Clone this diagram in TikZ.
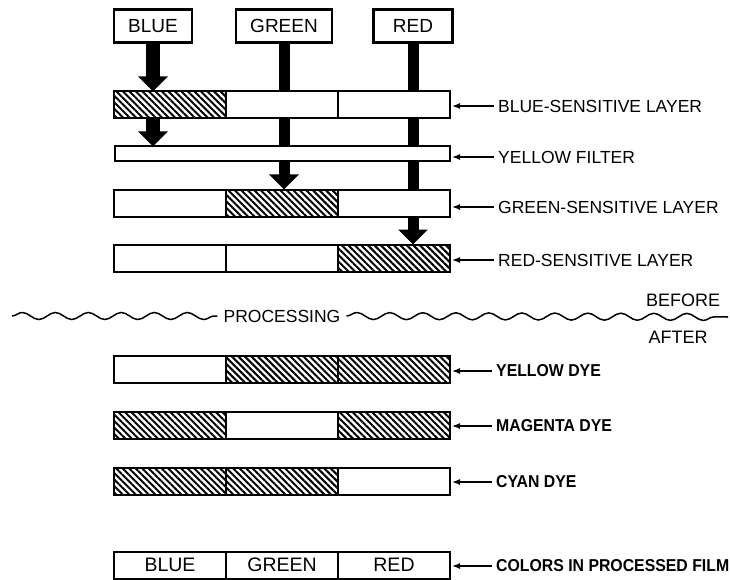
\documentclass[tikz,border=0pt]{standalone}
\usepackage{fontspec}
\setmainfont{Liberation Sans}
\newfontfamily\dyefont{Liberation Sans}[FakeStretch=0.92]
\usetikzlibrary{arrows.meta,positioning,patterns.meta,decorations.pathmorphing,backgrounds}
\tikzset{
  lay/.style={rectangle,draw=black,line width=2pt,fill=white,minimum width=112pt,
    minimum height=27pt,inner sep=0pt,outer sep=0pt,font=\fontsize{19.5}{20}\selectfont},
  layh/.style={rectangle,draw=black,line width=2pt,minimum width=112pt,
    minimum height=27pt,inner sep=0pt,outer sep=0pt,
    pattern={Lines[angle=-45,distance=4.6pt,line width=2pt]}},
  filt/.style={rectangle,draw=black,line width=2pt,fill=white,minimum width=335pt,
    minimum height=15pt,inner sep=0pt,outer sep=0pt},
  srcbox/.style={rectangle,draw=black,line width=2.2pt,fill=white,minimum height=33pt,
    inner sep=0pt,font=\fontsize{19}{20}\selectfont},
  lbl/.style={anchor=west,inner sep=4pt,font=\fontsize{17.5}{20}\selectfont},
  dyelbl/.style={anchor=west,inner sep=4pt,font=\dyefont\bfseries\fontsize{17.2}{20}\selectfont},
  ptr/.style={-{Latex[length=8pt,width=6pt]},line width=1.4pt,shorten >=2pt},
  beam/.style={line width=14pt,-{Triangle[length=15pt,width=29pt]}},
  beamthin/.style={beam,line width=11pt},
  wavy/.style={decorate,decoration={snake,amplitude=3.5pt,segment length=33pt},line width=1.5pt},
}
\begin{document}
\begin{tikzpicture}[x=1pt,y=-1pt]
  \useasboundingbox (0,0) rectangle (730,580);
  % light
  \node (sb) [srcbox,minimum width=78pt] at (153,26) {BLUE};
  \node (sg) [srcbox,minimum width=96pt] at (284,26) {GREEN};
  \node (sr) [srcbox,minimum width=79pt] at (413,26) {RED};
  % film before processing
  \node (b1) [layh,anchor=west] at (114,105) {};
  \node (b2) [lay,right=0pt of b1] {};
  \node (b3) [lay,right=0pt of b2] {};
  \node (yf) [filt,anchor=west] at (115,154) {};
  \node (g1) [lay,anchor=west] at (114,203) {};
  \node (g2) [layh,right=0pt of g1] {};
  \node (g3) [lay,right=0pt of g2] {};
  \node (r1) [lay,anchor=west] at (114,258) {};
  \node (r2) [lay,right=0pt of r1] {};
  \node (r3) [layh,right=0pt of r2] {};
  \begin{pgfonlayer}{background}
    \draw[beam] (sb) -- (sb.south |- b1.north);
    \draw[beam] (sb.south |- b1.south) -- (sb.south |- yf.north);
    \draw[beamthin] (sg) -- (sg.south |- g2.north);
    \draw[beamthin] (sr) -- (sr.south |- r3.north);
  \end{pgfonlayer}
  \node (lb) [lbl] at (494,106) {BLUE-SENSITIVE LAYER};
  \node (ly) [lbl] at (494,157) {YELLOW FILTER};
  \node (lg) [lbl] at (494,207) {GREEN-SENSITIVE LAYER};
  \node (lr) [lbl] at (494,260) {RED-SENSITIVE LAYER};
  \draw[ptr] (lb.west) -- (lb.west -| b3.east);
  \draw[ptr] (ly.west) -- (ly.west -| yf.east);
  \draw[ptr] (lg.west) -- (lg.west -| g3.east);
  \draw[ptr] (lr.west) -- (lr.west -| r3.east);
  % processing line
  \node (proc) [lbl,anchor=center,inner sep=6pt] at (282,316) {PROCESSING};
  \coordinate (wl) at (12,316);
  \coordinate (wr) at (728,317);
  \draw[wavy] (wl) -- (proc.west);
  \draw[wavy] (proc.east) -- (wr);
  \node (bef) [lbl,anchor=center,font=\fontsize{18}{20}\selectfont] at (683,300) {BEFORE};
  \node (aft) [lbl,anchor=center,font=\fontsize{18}{20}\selectfont] at (678,337) {AFTER};
  % dyes after processing
  \node (y1) [lay,anchor=west] at (114,369) {};
  \node (y2) [layh,right=0pt of y1] {};
  \node (y3) [layh,right=0pt of y2] {};
  \node (m1) [layh,anchor=west] at (114,425) {};
  \node (m2) [lay,right=0pt of m1] {};
  \node (m3) [layh,right=0pt of m2] {};
  \node (c1) [layh,anchor=west] at (114,481) {};
  \node (c2) [layh,right=0pt of c1] {};
  \node (c3) [lay,right=0pt of c2] {};
  \node (f1) [lay,anchor=west] at (114,565) {BLUE};
  \node (f2) [lay,right=0pt of f1] {GREEN};
  \node (f3) [lay,right=0pt of f2] {RED};
  \node (ld1) [dyelbl] at (492,371) {YELLOW DYE};
  \node (ld2) [dyelbl] at (492,426) {MAGENTA DYE};
  \node (ld3) [dyelbl] at (492,482) {CYAN DYE};
  \node (ld4) [dyelbl] at (492,566) {COLORS IN PROCESSED FILM};
  \draw[ptr] (ld1.west) -- (ld1.west -| y3.east);
  \draw[ptr] (ld2.west) -- (ld2.west -| m3.east);
  \draw[ptr] (ld3.west) -- (ld3.west -| c3.east);
  \draw[ptr] (ld4.west) -- (ld4.west -| f3.east);
\end{tikzpicture}
\end{document}
